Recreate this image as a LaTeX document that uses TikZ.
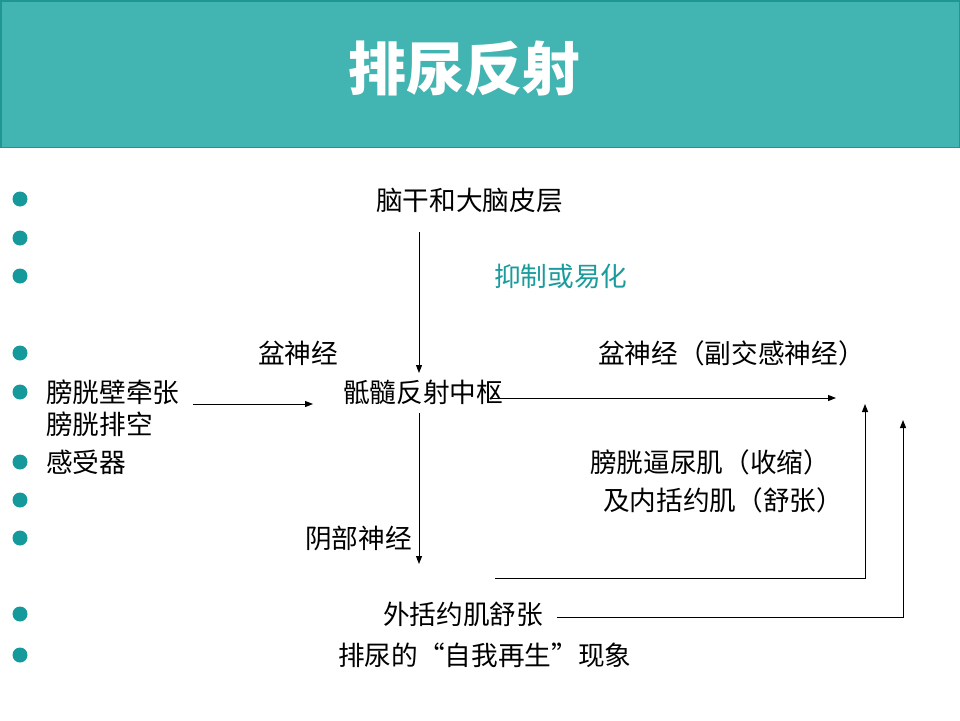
\documentclass[tikz,border=0pt]{standalone}
\usepackage{fontspec}
\setmainfont{Noto Sans CJK SC}
\usetikzlibrary{arrows.meta}
\definecolor{headfill}{HTML}{42B4B2}
\definecolor{headline}{HTML}{1F968F}
\definecolor{bulletc}{HTML}{16999A}
\definecolor{tealtext}{HTML}{1A9C9C}
\begin{document}
\begin{tikzpicture}[x=1pt,y=-1pt,
 txt/.style={anchor=west,inner sep=0pt,font=\fontsize{26.67}{30}\selectfont},
 bul/.style={circle,fill=bulletc,minimum size=15pt,inner sep=0pt},
 arr/.style={line width=1pt,-{Triangle[length=8pt,width=6pt]}},
 ln/.style={line width=1pt}]
\useasboundingbox (0,0) rectangle (960,720);
\fill[white] (0,0) rectangle (960,720);
\draw[fill=headfill,draw=headline,line width=1.5pt] (0.75,0.75) rectangle (959.25,147.5);
\node[font=\fontsize{58}{60}\selectfont\bfseries,text=white,inner sep=0pt] (title) at (464,68) {排尿反射};
% bullets
\foreach \yy [count=\i] in {199,238,276,353,392,462,500,538,614,655}
  \node[bul] (b\i) at (20,\yy) {};
% texts
\node[txt] (brain) at (376,200) {脑干和大脑皮层};
\node[txt,text=tealtext] (inhib) at (494,276) {抑制或易化};
\node[txt] (pelvL) at (258,353) {盆神经};
\node[txt] (pelvR) at (598,353) {盆神经（副交感神经）};
\node[txt] (stretch) at (46,392) {膀胱壁牵张};
\node[txt] (empty) at (46,424) {膀胱排空};
\node[txt] (center) at (343,392) {骶髓反射中枢};
\node[txt] (recep) at (46,462) {感受器};
\node[txt] (detr) at (590,462) {膀胱逼尿肌（收缩）};
\node[txt] (inner) at (603,500) {及内括约肌（舒张）};
\node[txt] (pud) at (305,538) {阴部神经};
\node[txt] (ext) at (383,614) {外括约肌舒张};
\node[txt] (regen) at (338,655) {排尿的“自我再生”现象};
% connector coordinates
\coordinate (v1s) at (419,232);
\coordinate (v1e) at (419,373);
\coordinate (h1s) at (193,404);
\coordinate (h1e) at (313,404);
\coordinate (h2s) at (492,398);
\coordinate (h2e) at (836,398);
\coordinate (v2s) at (419,413);
\coordinate (v2e) at (419,564);
\coordinate (r1s) at (495,578);
\coordinate (r1c) at (865,578);
\coordinate (r1e) at (865,404);
\coordinate (r2s) at (557,617);
\coordinate (r2c) at (903,617);
\coordinate (r2e) at (903,420);
\draw[arr] (v1s) -- (v1e);
\draw[arr] (h1s) -- (h1e);
\draw[arr] (h2s) -- (h2e);
\draw[arr] (v2s) -- (v2e);
\draw[arr] (r1s) -- (r1c) -- (r1e);
\draw[arr] (r2s) -- (r2c) -- (r2e);
\end{tikzpicture}
\end{document}
